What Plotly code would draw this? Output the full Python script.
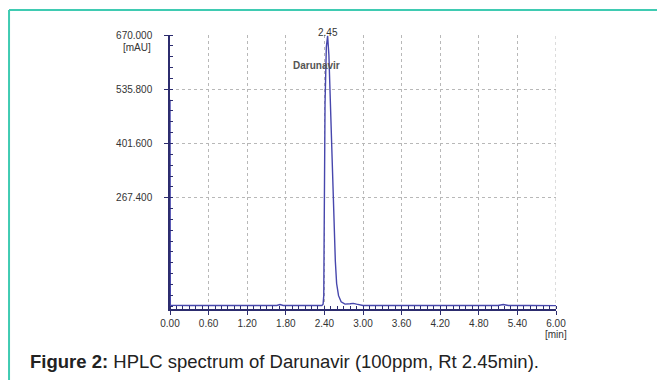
import plotly.graph_objects as go

# Chromatogram data (time in min, signal in mAU)
time_min = [0.0, 0.005, 0.3, 0.8, 1.2, 1.66, 1.71, 1.76, 2.0, 2.3, 2.36, 2.38, 2.39, 2.395,
            2.40, 2.41, 2.43, 2.45, 2.47, 2.49, 2.51, 2.53, 2.55, 2.57, 2.59, 2.62,
            2.66, 2.72, 2.80, 2.85, 2.90, 2.96, 3.0, 3.6, 4.2, 4.8, 5.1, 5.18, 5.26, 5.6, 6.0]
signal_mau = [510, 1.0, 0.8, 0.6, 0.7, 0.8, 3.0, 0.8, 0.7, 0.6, 0.8, 4, 25, 150,
              330, 500, 640, 668, 620, 520, 420, 300, 190, 110, 55, 25,
              10, 4, 5, 6, 4, 1.5, 0.8, 0.6, 0.5, 0.6, 0.7, 3.0, 0.7, 0.5, 0.4]

x_ticks = [0.0, 0.6, 1.2, 1.8, 2.4, 3.0, 3.6, 4.2, 4.8, 5.4, 6.0]
x_labels = ["0.00", "0.60", "1.20", "1.80", "2.40", "3.00", "3.60", "4.20", "4.80", "5.40", "6.00"]
y_ticks = [267.4, 401.6, 535.8, 670.0]
y_labels = ["267.400", "401.600", "535.800", "670.000"]

peak_rt = 2.45
peak_label = "2.45"
compound = "Darunavir"
caption = "<b>Figure 2:</b> HPLC spectrum of Darunavir (100ppm, Rt 2.45min)."

fig = go.Figure()
fig.add_trace(go.Scatter(x=time_min, y=signal_mau, mode="lines",
                         line=dict(color="#4747ad", width=1.4), showlegend=False,
                         hoverinfo="skip"))

font_main = "Liberation Sans, Arial, sans-serif"
axis_col = "#2c2c6e"
grid_col = "#b8b8b8"

# The page body has an 8px default margin, so the figure is sized 8px smaller
fig.update_layout(
    width=657, height=372,
    margin=dict(l=162, r=109, t=27, b=71),
    paper_bgcolor="white", plot_bgcolor="white",
    font=dict(family=font_main, size=10, color="#333333"),
    xaxis=dict(range=[0, 6.0], tickvals=x_ticks, ticktext=x_labels,
               showline=True, linecolor=axis_col, linewidth=1.5,
               ticks="outside", ticklen=4, tickcolor=axis_col, tickwidth=1,
               showgrid=True, gridcolor=grid_col, griddash="dot", gridwidth=1,
               zeroline=False, tickfont=dict(size=10, color="#333333"),
               ticklabelstandoff=0,
               minor=dict(ticks="inside", ticklen=3, tickcolor=axis_col, dtick=0.1,
                          tick0=0, showgrid=False)),
    yaxis=dict(range=[-8, 670], tickvals=y_ticks, ticktext=y_labels,
               showline=True, linecolor=axis_col, linewidth=1.5,
               ticks="outside", ticklen=4, tickcolor=axis_col, tickwidth=1,
               showgrid=True, gridcolor=grid_col, griddash="dot", gridwidth=1,
               zeroline=False, tickfont=dict(size=10, color="#333333"),
               ticklabelstandoff=10,
               minor=dict(ticks="inside", ticklen=3, tickcolor=axis_col, dtick=26.84,
                          tick0=267.4, showgrid=False)),
)

# right dotted grid border at 6.00
fig.add_shape(type="line", xref="x", yref="paper", x0=6.0, x1=6.0, y0=0, y1=1,
              line=dict(color=grid_col, width=1, dash="dot"))

fig.add_annotation(x=peak_rt + 0.01, y=1.008, xref="x", yref="paper", text=peak_label,
                   showarrow=False, font=dict(size=10, color="#333333"),
                   xanchor="center", yanchor="middle")
fig.add_annotation(x=2.27, y=0.887, xref="x", yref="paper", text="<b>" + compound + "</b>",
                   showarrow=False, font=dict(size=10, color="#555555", family=font_main),
                   xanchor="center", yanchor="middle")
fig.add_annotation(x=-0.044, y=0.955, xref="paper", yref="paper", text="[mAU]",
                   showarrow=False, font=dict(size=10, color="#333333"),
                   xanchor="right", yanchor="middle")
fig.add_annotation(x=1.0, y=-0.092, xref="paper", yref="paper", text="[min]",
                   showarrow=False, font=dict(size=10, color="#333333"),
                   xanchor="center", yanchor="middle")

# caption
fig.add_annotation(x=-0.368, y=-0.19, xref="paper", yref="paper", text=caption,
                   showarrow=False, font=dict(size=18.5, color="#222222", family=font_main),
                   xanchor="left", yanchor="middle")

# teal frame (top and left edges)
teal = "#3fcbb2"
fig.add_shape(type="line", xref="paper", yref="paper", x0=-0.417, x1=1.31, y0=1.091, y1=1.091,
              line=dict(color=teal, width=2))
fig.add_shape(type="line", xref="paper", yref="paper", x0=-0.417, x1=-0.417, y0=1.091, y1=-0.3,
              line=dict(color=teal, width=2))

fig.write_html("out.html")
